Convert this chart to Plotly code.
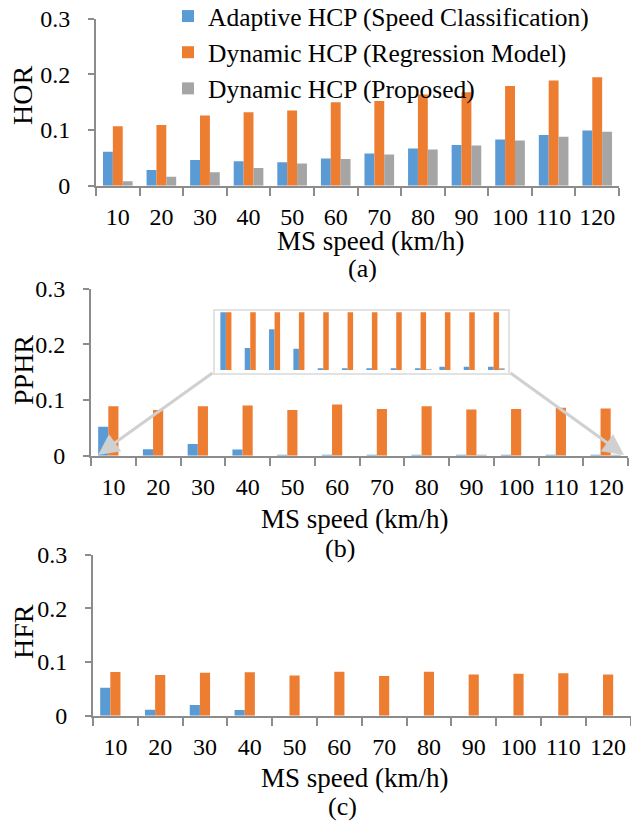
import plotly.graph_objects as go

# ---------------- data ----------------
speeds = ["10", "20", "30", "40", "50", "60", "70", "80", "90", "100", "110", "120"]
series_names = ["Adaptive HCP (Speed Classification)",
                "Dynamic HCP (Regression Model)",
                "Dynamic HCP (Proposed)"]

hor_adaptive = [0.061, 0.028, 0.046, 0.044, 0.042, 0.049, 0.058, 0.067, 0.073, 0.083, 0.091, 0.099]
hor_regression = [0.107, 0.109, 0.126, 0.132, 0.135, 0.150, 0.152, 0.164, 0.168, 0.179, 0.189, 0.195]
hor_proposed = [0.008, 0.016, 0.024, 0.032, 0.040, 0.048, 0.056, 0.065, 0.072, 0.081, 0.088, 0.097]

pphr_adaptive = [0.052, 0.0115, 0.0212, 0.0111, 0.0005, 0.0005, 0.0005, 0.0009, 0.0005, 0.0017, 0.0017, 0.0017]
pphr_regression = [0.089, 0.082, 0.089, 0.090, 0.082, 0.092, 0.084, 0.089, 0.083, 0.084, 0.086, 0.085]
pphr_proposed = [0, 0, 0, 0, 0, 0, 0, 0, 0.0002, 0, 0, 0.0005]

hfr_adaptive = [0.052, 0.011, 0.020, 0.0105, 0, 0, 0, 0, 0, 0, 0, 0]
hfr_regression = [0.0815, 0.076, 0.080, 0.081, 0.075, 0.082, 0.074, 0.082, 0.077, 0.078, 0.079, 0.077]
hfr_proposed = [0, 0, 0, 0, 0, 0, 0, 0, 0, 0, 0, 0]

y_tickvals = [0, 0.1, 0.2, 0.3]
y_ticktext = ["0", "0.1", "0.2", "0.3"]
inset_range = [0, 0.03]

colors = ["#5B9BD5", "#ED7D31", "#A5A5A5"]

# ---------------- layout helpers ----------------
W, H = 631, 825
FONT = "Liberation Serif"
AX_GRAY = "#8C8C8C"


def fx(px):
    return px / W


def fy(py):
    return 1 - py / H


fig = go.Figure()

panels = [
    ("x", "y", [hor_adaptive, hor_regression, hor_proposed], True),
    ("x2", "y2", [pphr_adaptive, pphr_regression, pphr_proposed], False),
    ("x3", "y3", [hfr_adaptive, hfr_regression, hfr_proposed], False),
    ("x4", "y4", [pphr_adaptive, pphr_regression, pphr_proposed], False),
]

for xa, ya, vals, show in panels:
    for name, v, c in zip(series_names, vals, colors):
        fig.add_trace(go.Bar(x=speeds, y=v, name=name, marker_color=c,
                             marker_line_width=0, xaxis=xa, yaxis=ya,
                             showlegend=show, hoverinfo="skip"))

# panel pixel geometry (left, right, top(0.3), bottom(0))
geo = {
    "": (96, 619, 18.7, 185.7),
    "2": (91, 628, 288.7, 455.7),
    "3": (93, 630.5, 554.7, 715.7),
}

layout = dict(
    width=W, height=H, margin=dict(l=0, r=0, t=0, b=0, autoexpand=False),
    paper_bgcolor="white", plot_bgcolor="rgba(0,0,0,0)",
    barmode="group", bargap=0.32, bargroupgap=0,
    font=dict(family=FONT, size=24, color="black"),
    showlegend=True,
    legend=dict(x=fx(168), y=fy(-7), xanchor="left", yanchor="top",
                bgcolor="rgba(0,0,0,0)", font=dict(size=25.5, family=FONT, color="black"),
                tracegroupgap=0, itemclick=False),
)

for k, (l, r, t, b) in geo.items():
    layout["xaxis" + k] = dict(
        domain=[fx(l), fx(r)], anchor="y" + k, type="category",
        showline=True, linecolor=AX_GRAY, linewidth=2,
        ticks="outside", tickson="boundaries", ticklen=8, tickwidth=2,
        tickcolor=AX_GRAY, showgrid=False, ticklabelstandoff=8,
        tickangle=0, automargin=False,
        tickfont=dict(size=24, family=FONT, color="black"),
    )
    layout["yaxis" + k] = dict(
        domain=[fy(b), fy(t)], anchor="x" + k, range=[0, 0.3],
        tickvals=y_tickvals, ticktext=y_ticktext,
        showline=True, linecolor=AX_GRAY, linewidth=2,
        ticks="outside", ticklen=6, tickwidth=2, tickcolor=AX_GRAY,
        showgrid=False, zeroline=False, ticklabelstandoff=13, automargin=False,
        tickfont=dict(size=24, family=FONT, color="black"),
    )

# inset zoom axes
layout["xaxis4"] = dict(domain=[fx(216.5), fx(508.5)], anchor="y4", type="category",
                        visible=False, showgrid=False, automargin=False)
layout["yaxis4"] = dict(domain=[fy(370), fy(312.3)], anchor="x4", range=inset_range,
                        visible=False, showgrid=False, zeroline=False, automargin=False)

fig.update_layout(**layout)

# inset frame
fig.add_shape(type="rect", xref="paper", yref="paper",
              x0=fx(214), x1=fx(509), y0=fy(374), y1=fy(310),
              fillcolor="white", line=dict(color="#E2E2E2", width=2), layer="below")

# zoom arrows
arrow_col = "#D0D0D0"
fig.add_annotation(xref="paper", yref="paper", x=fx(98), y=fy(455), ax=116, ay=-83,
                   text="", showarrow=True, arrowhead=2, arrowsize=1.4, arrowwidth=3,
                   arrowcolor=arrow_col, standoff=0, startstandoff=0)
fig.add_annotation(xref="paper", yref="paper", x=fx(624), y=fy(455), ax=-115, ay=-83,
                   text="", showarrow=True, arrowhead=2, arrowsize=1.4, arrowwidth=3,
                   arrowcolor=arrow_col, standoff=0, startstandoff=0)

# titles
texts = [
    ("HOR", 23, 96, -90, 28),
    ("PPHR", 23, 370, -90, 28),
    ("HFR", 23, 632, -90, 28),
    ("MS speed (km/h)", 370, 241, 0, 27),
    ("MS speed (km/h)", 354, 519, 0, 27),
    ("MS speed (km/h)", 354, 778, 0, 27),
    ("(a)", 362, 268, 0, 26),
    ("(b)", 340, 548, 0, 26),
    ("(c)", 342, 806, 0, 26),
]
for t, x, y, ang, fs in texts:
    fig.add_annotation(xref="paper", yref="paper", x=fx(x), y=fy(y), text=t,
                       showarrow=False, textangle=ang, xanchor="center", yanchor="middle",
                       font=dict(size=fs, family=FONT, color="black"))

fig.write_html("out.html", config={"displayModeBar": False},
               post_script="document.body.style.margin='0px';document.body.style.padding='0px';")
